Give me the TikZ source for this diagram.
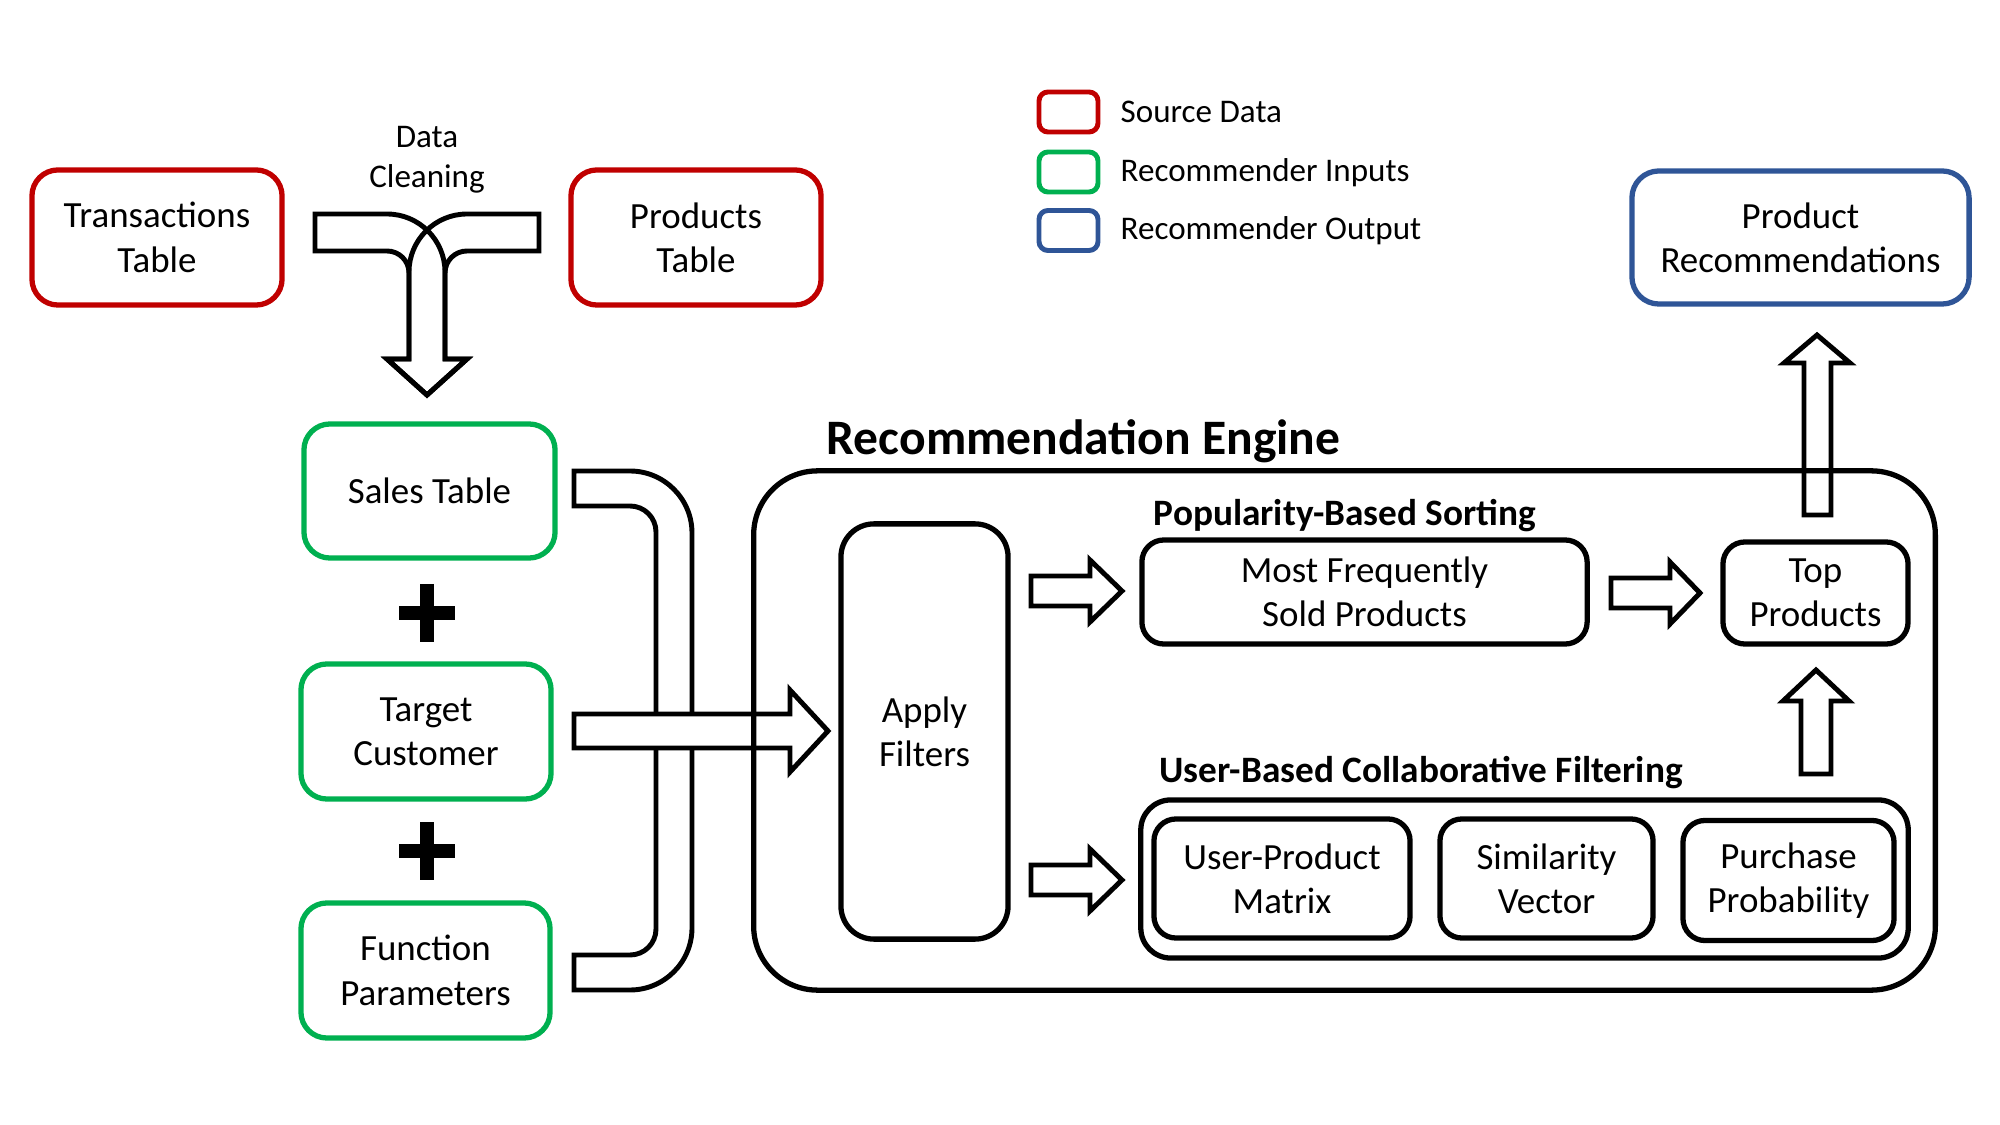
\documentclass[tikz,border=0pt]{standalone}
\usepackage{fontspec}
\setmainfont{Carlito}
\definecolor{srcred}{HTML}{C00000}
\definecolor{ingreen}{HTML}{00B050}
\definecolor{outblue}{HTML}{2F5597}
\newcommand\txtA{\fontsize{10.5pt}{12.6pt}\selectfont}
\newcommand\txtS{\fontsize{9.4pt}{11.4pt}\selectfont}
\newcommand\txtB{\fontsize{10.6pt}{12.6pt}\selectfont\bfseries}
\newcommand\txtT{\fontsize{14.1pt}{16pt}\selectfont\bfseries}
\tikzset{
 base/.style={draw, line width=1.5pt, align=center, inner sep=0pt, font=\txtA},
 srcbox/.style={base, draw=srcred, rounded corners=0.26cm},
 inbox/.style={base, draw=ingreen, rounded corners=0.26cm},
 outbox/.style={base, draw=outblue, rounded corners=0.27cm},
 blkbox/.style={base, draw=black, rounded corners=0.22cm},
 legbox/.style={draw, line width=1.4pt, rounded corners=0.09cm, minimum width=0.59cm, minimum height=0.40cm, inner sep=0pt},
 legtxt/.style={anchor=base west, font=\txtS, inner sep=0pt},
 blockarrow/.style={draw, line width=1.4pt, line join=miter},
 sectitle/.style={font=\txtB, inner sep=0pt},
}
\begin{document}
\begin{tikzpicture}[x=0.01cm,y=-0.01cm]
\useasboundingbox (0,0) rectangle (2000,1125);
\fill[white] (0,0) rectangle (2000,1125);

% source boxes
\node[srcbox, minimum width=2.50cm, minimum height=1.35cm] (trans) at (157,237.5) {Transactions\\Table};
\node[srcbox, minimum width=2.50cm, minimum height=1.35cm] (prodtab) at (696,237.5) {Products\\Table};
\node[outbox, minimum width=3.37cm, minimum height=1.33cm] (prodrec) at (1800.5,237.5) {Product\\Recommendations};

% data cleaning label
\node[font=\txtS, align=center, inner sep=0pt] (clean) at (427,160) {Data\\Cleaning};

% T shaped merging arrow
\fill[white] (315,214) -- (387,214) .. controls (419,214) and (445,240) .. (445,272) -- (445,359) -- (467,359) -- (427,395) -- (387,359) -- (409,359) -- (409,273) .. controls (409,260.8) and (399.2,251) .. (387,251) -- (315,251) -- cycle;
\fill[white] (539,214) -- (467,214) .. controls (435,214) and (409,240) .. (409,272) -- (409,359) -- (387,359) -- (427,395) -- (467,359) -- (445,359) -- (445,273) .. controls (445,260.8) and (454.8,251) .. (467,251) -- (539,251) -- cycle;
\draw[blockarrow] (315,214) -- (387,214) .. controls (419,214) and (445,240) .. (445,272) -- (445,359) -- (467,359) -- (427,395) -- (387,359) -- (409,359) -- (409,273) .. controls (409,260.8) and (399.2,251) .. (387,251) -- (315,251) -- cycle;
\draw[blockarrow] (539,214) -- (467,214) .. controls (435,214) and (409,240) .. (409,272) -- (409,359) -- (387,359) -- (427,395) -- (467,359) -- (445,359) -- (445,273) .. controls (445,260.8) and (454.8,251) .. (467,251) -- (539,251) -- cycle;

% inputs
\node[inbox, minimum width=2.51cm, minimum height=1.34cm] (sales) at (429.5,491) {Sales Table};
\node[inbox, minimum width=2.50cm, minimum height=1.35cm] (target) at (426,731.5) {Target\\Customer};
\node[inbox, minimum width=2.49cm, minimum height=1.35cm] (func) at (425.5,970.5) {Function\\Parameters};

% plus signs
\draw[line width=0.14cm] (399,613) -- (455,613) (427,584) -- (427,642);
\draw[line width=0.14cm] (399,851) -- (455,851) (427,822) -- (427,880);

% bracket
\draw[blockarrow, fill=white] (574,471) -- (630,471) .. controls (664.2,471) and (692,498.8) .. (692,533) -- (692,928) .. controls (692,962.2) and (664.2,990) .. (630,990) -- (574,990) -- (574,955) -- (630,955) .. controls (644.4,955) and (656,943.4) .. (656,929) -- (656,532) .. controls (656,517.6) and (644.4,506) .. (630,506) -- (574,506) -- cycle;

% main horizontal arrow
\draw[blockarrow, fill=white] (574,714) -- (790,714) -- (790,690) -- (828,731) -- (790,772) -- (790,748) -- (574,748) -- cycle;

% engine
\node[draw, line width=1.5pt, rounded corners=0.64cm, minimum width=11.81cm, minimum height=5.19cm, inner sep=0pt] (engine) at (1344.5,730.5) {};
\node[font=\txtT, anchor=west, inner sep=0pt] (enginetitle) at (826,441) {Recommendation Engine};

\node[blkbox, rounded corners=0.33cm, minimum width=1.67cm, minimum height=4.15cm] (apply) at (924.5,731.5) {Apply\\Filters};

\node[sectitle] (poptitle) at (1345,516) {Popularity-Based Sorting};
\node[blkbox, minimum width=4.45cm, minimum height=1.04cm] (mostfreq) at (1364.5,592) {Most Frequently\\Sold Products};
\node[blkbox, minimum width=1.85cm, minimum height=1.02cm] (top) at (1815.5,593) {Top\\Products};

\node[sectitle] (ubcftitle) at (1421,773) {User-Based Collaborative Filtering};
\node[blkbox, rounded corners=0.3cm, minimum width=7.67cm, minimum height=1.58cm] (ubcf) at (1524.5,879) {};
\node[blkbox, minimum width=2.56cm, minimum height=1.19cm] (upm) at (1282,878.5) {User-Product\\Matrix};
\node[blkbox, minimum width=2.13cm, minimum height=1.19cm] (sim) at (1546.5,878.5) {Similarity\\Vector};
\node[blkbox, minimum width=2.11cm, minimum height=1.20cm] (purch) at (1788.5,880.5) {Purchase\\Probability};

% block arrows inside engine
\draw[blockarrow] (1031,576) -- (1090,576) -- (1090,560) -- (1122,591) -- (1090,622) -- (1090,606) -- (1031,606) -- cycle;
\draw[blockarrow] (1031,865) -- (1090,865) -- (1090,849) -- (1122,880) -- (1090,911) -- (1090,895) -- (1031,895) -- cycle;
\draw[blockarrow] (1611,578) -- (1670,578) -- (1670,562) -- (1700,593) -- (1670,624) -- (1670,608) -- (1611,608) -- cycle;
\draw[blockarrow] (1801,774) -- (1801,701) -- (1783,701) -- (1816,670) -- (1849,701) -- (1831,701) -- (1831,774) -- cycle;
\draw[blockarrow] (1804,515) -- (1804,363) -- (1784,363) -- (1817,335) -- (1850,363) -- (1831,363) -- (1831,515) -- cycle;

% legend
\node[legbox, draw=srcred] (leg1) at (1068.5,112) {};
\node[legbox, draw=ingreen] (leg2) at (1068.5,172) {};
\node[legbox, draw=outblue] (leg3) at (1068.5,230.5) {};
\node[legtxt] (legt1) at (1120,123) {Source Data};
\node[legtxt] (legt2) at (1120,182) {Recommender Inputs};
\node[legtxt] (legt3) at (1120,240) {Recommender Output};
\end{tikzpicture}
\end{document}
